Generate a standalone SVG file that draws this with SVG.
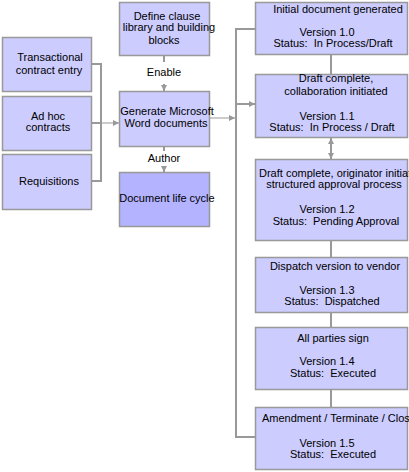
<svg xmlns="http://www.w3.org/2000/svg" width="409" height="472" viewBox="0 0 409 472">
<style>
.box{fill:#CCCCFF;stroke:#999999;stroke-width:1.5}
.dark{fill:#B3B3FF}
text{font-family:"Liberation Sans",Arial,sans-serif;font-size:11px;fill:#000;white-space:pre}
.c{text-anchor:middle}
.ln{fill:none;stroke:#999999;stroke-width:2}
.th{fill:none;stroke:#999999;stroke-width:1}
</style>
<defs>
<marker id="ah" viewBox="0 0 6 6" refX="6" refY="3" markerWidth="6" markerHeight="6" markerUnits="userSpaceOnUse" orient="auto-start-reverse">
<path d="M0,0 L6,3 L0,6 z" fill="#999999"/>
</marker>
</defs>
<rect width="409" height="472" fill="#ffffff"/>
<g id="connectors">
<polyline class="ln" points="91,64 101,64 101,181 91,181"/>
<line class="ln" x1="91" y1="123" x2="101" y2="123"/>
<line class="th" x1="101" y1="123" x2="119" y2="123" marker-end="url(#ah)"/>
<line class="ln" x1="164" y1="55" x2="164" y2="62"/>
<line class="ln" x1="164" y1="84" x2="164" y2="91" marker-end="url(#ah)"/>
<line class="ln" x1="164" y1="146" x2="164" y2="151"/>
<line class="ln" x1="164" y1="166" x2="164" y2="172" marker-end="url(#ah)"/>
<line class="th" x1="209" y1="118" x2="235" y2="118" marker-end="url(#ah)"/>
<polyline class="ln" points="255,29 236,29 236,437 255,437"/>
<line class="ln" x1="236" y1="104" x2="255" y2="104" marker-end="url(#ah)"/>
<line class="ln" x1="331" y1="54" x2="331" y2="74"/>
<line class="ln" x1="331" y1="138" x2="331" y2="159" marker-start="url(#ah)" marker-end="url(#ah)"/>
<line class="ln" x1="331" y1="240" x2="331" y2="257"/>
<line class="ln" x1="331" y1="312" x2="331" y2="327"/>
<line class="ln" x1="331" y1="389" x2="331" y2="407"/>
</g>
<g id="labels">
<text class="c" x="164" y="76">Enable</text>
<text class="c" x="164" y="162">Author</text>
</g>
<g id="transactional">
<rect class="box" x="2.5" y="37.5" width="89" height="54"/>
<text class="c" x="50" y="61">Transactional</text>
<text class="c" x="49" y="74">contract entry</text>
</g>
<g id="adhoc">
<rect class="box" x="2.5" y="96.5" width="89" height="54"/>
<text class="c" x="48" y="120">Ad hoc</text>
<text class="c" x="48" y="131">contracts</text>
</g>
<g id="requisitions">
<rect class="box" x="2.5" y="154.5" width="89" height="55"/>
<text class="c" x="49" y="185">Requisitions</text>
</g>
<g id="define">
<rect class="box" x="119.5" y="2.5" width="90" height="53"/>
<text class="c" x="167" y="20">Define clause</text>
<text class="c" x="169" y="31">library and building</text>
<text class="c" x="164" y="44">blocks</text>
</g>
<g id="generate">
<rect class="box" x="119.5" y="91.5" width="90" height="55"/>
<text class="c" x="167" y="115">Generate Microsoft</text>
<text class="c" x="166" y="127">Word documents</text>
</g>
<g id="lifecycle">
<rect class="box dark" x="119.5" y="172.5" width="90" height="54"/>
<text class="c" x="167" y="202">Document life cycle</text>
</g>
<g id="v10">
<rect class="box" x="255.5" y="2.5" width="152" height="52"/>
<text class="c" x="338" y="13">Initial document generated</text>
<text class="c" x="327" y="36">Version 1.0</text>
<text class="c" x="333" y="47" xml:space="preserve">Status:  In Process/Draft</text>
</g>
<g id="v11">
<rect class="box" x="255.5" y="74.5" width="152" height="63"/>
<text class="c" x="336" y="82">Draft complete,</text>
<text class="c" x="336" y="95">collaboration initiated</text>
<text class="c" x="327" y="120">Version 1.1</text>
<text class="c" x="332" y="131" xml:space="preserve">Status:  In Process / Draft</text>
</g>
<g id="v12">
<rect class="box" x="255.5" y="159.5" width="152" height="81"/>
<text x="259" y="177">Draft complete, originator initiates</text>
<text class="c" x="334" y="188">structured approval process</text>
<text class="c" x="327" y="213">Version 1.2</text>
<text class="c" x="336" y="225" xml:space="preserve">Status:  Pending Approval</text>
</g>
<g id="v13">
<rect class="box" x="255.5" y="257.5" width="152" height="55"/>
<text class="c" x="335" y="270">Dispatch version to vendor</text>
<text class="c" x="327" y="294">Version 1.3</text>
<text class="c" x="332" y="305" xml:space="preserve">Status:  Dispatched</text>
</g>
<g id="v14">
<rect class="box" x="255.5" y="327.5" width="152" height="62"/>
<text class="c" x="333" y="342">All parties sign</text>
<text class="c" x="327" y="365">Version 1.4</text>
<text class="c" x="333" y="377" xml:space="preserve">Status:  Executed</text>
</g>
<g id="v15">
<rect class="box" x="255.5" y="407.5" width="152" height="62"/>
<text x="262" y="422">Amendment / Terminate / Close</text>
<text class="c" x="327" y="447">Version 1.5</text>
<text class="c" x="333" y="458" xml:space="preserve">Status:  Executed</text>
</g>
</svg>
